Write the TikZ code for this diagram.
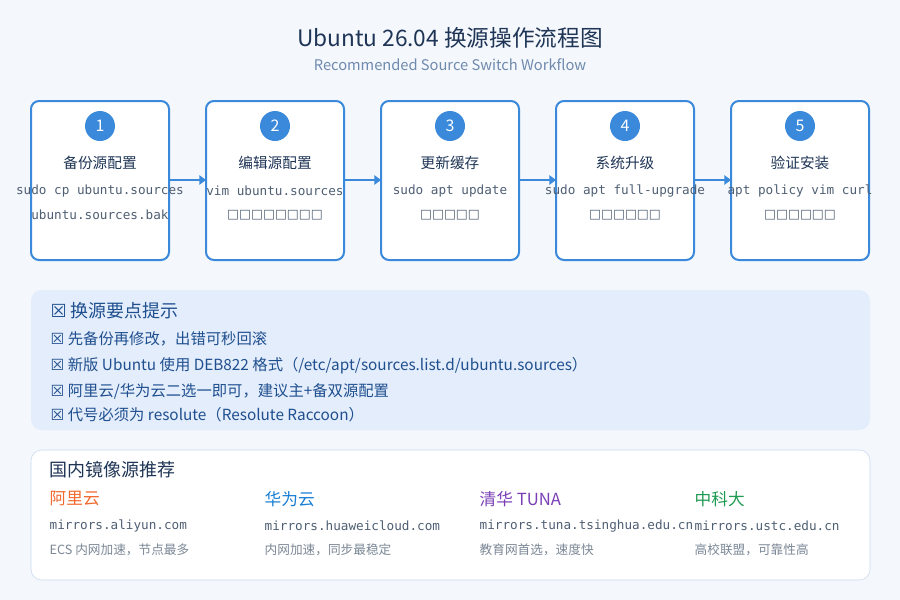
\documentclass[tikz,border=0pt]{standalone}
\usepackage{fontspec}
\setmainfont{Noto Sans CJK SC}
\setmonofont{DejaVu Sans Mono}
\newfontfamily\symfont{DejaVu Sans}
\usetikzlibrary{positioning,arrows.meta}
\definecolor{bgc}{HTML}{F4F7FC}
\definecolor{stepblue}{HTML}{3A89DA}
\definecolor{titlec}{HTML}{1F3556}
\definecolor{subc}{HTML}{6F8AAE}
\definecolor{codec}{HTML}{4F5F73}
\definecolor{tipfill}{HTML}{E3EDFB}
\definecolor{tipc}{HTML}{1F4F8F}
\definecolor{boxline}{HTML}{C9D8EE}
\definecolor{aliyun}{HTML}{F2692E}
\definecolor{huawei}{HTML}{1A7FD4}
\definecolor{tuna}{HTML}{7A3FB5}
\definecolor{ustc}{HTML}{1F9A52}
\definecolor{notec}{HTML}{7C8896}
\newcommand{\tofu}[1]{{\symfont\foreach \k in {1,...,#1}{\char"25A1}}}
\newcommand{\xbox}{{\symfont\char"2612}}
\begin{document}
\begin{tikzpicture}[x=0.75pt,y=-0.75pt]
  \tikzset{
    stepbox/.style={draw=stepblue,line width=1.5pt,fill=white,rounded corners=6pt},
    num/.style={circle,fill=stepblue,text=white,minimum size=22.5pt,inner sep=0pt,font=\fontsize{12}{12}\selectfont},
    stitle/.style={text=titlec,font=\fontsize{11}{13}\selectfont},
    code/.style={text=codec,font=\ttfamily\fontsize{9.5}{11}\selectfont},
    flow/.style={draw=stepblue,line width=1.5pt,-{Triangle[length=5pt,width=7pt]}},
    tip/.style={anchor=west,text=tipc,font=\fontsize{11.5}{13}\selectfont},
    mname/.style={anchor=west,font=\fontsize{12.5}{14}\selectfont},
    murl/.style={anchor=west,text=codec,font=\ttfamily\fontsize{9.5}{11}\selectfont},
    mnote/.style={anchor=west,text=notec,font=\fontsize{9.5}{11}\selectfont}
  }
  \fill[bgc] (0,0) rectangle (900,600);
  \useasboundingbox (0,0) rectangle (900,600);
  % title
  \node[text=titlec,font=\fontsize{17}{20}\selectfont] (title) at (450,38) {Ubuntu 26.04 换源操作流程图};
  \node[text=subc,font=\fontsize{11}{13}\selectfont] (subtitle) at (450,65) {Recommended Source Switch Workflow};
  % steps
  \foreach \i/\x/\name/\cmd/\extra in {
      1/100/备份源配置/sudo cp ubuntu.sources/ubuntu.sources.bak,
      2/275/编辑源配置/vim ubuntu.sources/\tofu{8},
      3/450/更新缓存/sudo apt update/\tofu{5},
      4/625/系统升级/sudo apt full-upgrade/\tofu{6},
      5/800/验证安装/apt policy vim curl/\tofu{6}}{
    \draw[stepbox] (\x-69,101) rectangle (\x+69,260);
    \coordinate (s\i w) at (\x-69,180);
    \coordinate (s\i e) at (\x+69,180);
    \node[num] (n\i) at (\x,126) {\i};
    \node[stitle] (t\i) at (\x,163) {\name};
    \node[code] (c\i) at (\x,191) {\cmd};
    \node[code] (d\i) at (\x,215) {\extra};
  }
  \foreach \i/\j in {1/2,2/3,3/4,4/5}
    \draw[flow] (s\i e) -- (s\j w);
  % tips
  \fill[tipfill,rounded corners=8pt] (31,290) rectangle (870,430);
  \node[tip,font=\fontsize{13.5}{15}\selectfont] (tiph) at (46,311) {\xbox{} 换源要点提示};
  \node[tip] (tip1) at (46,339) {\xbox{} 先备份再修改，出错可秒回滚};
  \node[tip] (tip2) at (46,366) {\xbox{} 新版 Ubuntu 使用 DEB822 格式（/etc/apt/sources.list.d/ubuntu.sources）};
  \node[tip] (tip3) at (46,391) {\xbox{} 阿里云/华为云二选一即可，建议主+备双源配置};
  \node[tip] (tip4) at (46,415) {\xbox{} 代号必须为 resolute（Resolute Raccoon）};
  % mirrors
  \draw[boxline,fill=white,rounded corners=8pt] (31,450) rectangle (870,580);
  \node[anchor=west,text=titlec,font=\fontsize{13.5}{15}\selectfont] (mh) at (45,470) {国内镜像源推荐};
  \foreach \x/\c/\nm/\url/\note in {
      45/aliyun/阿里云/mirrors.aliyun.com/ECS 内网加速，节点最多,
      260/huawei/华为云/mirrors.huaweicloud.com/内网加速，同步最稳定,
      475/tuna/清华 TUNA/mirrors.tuna.tsinghua.edu.cn/教育网首选，速度快,
      690/ustc/中科大/mirrors.ustc.edu.cn/高校联盟，可靠性高}{
    \node[mname,text=\c] at (\x,499) {\nm};
    \node[murl] at (\x,526) {\url};
    \node[mnote] at (\x,550) {\note};
  }
\end{tikzpicture}
\end{document}
